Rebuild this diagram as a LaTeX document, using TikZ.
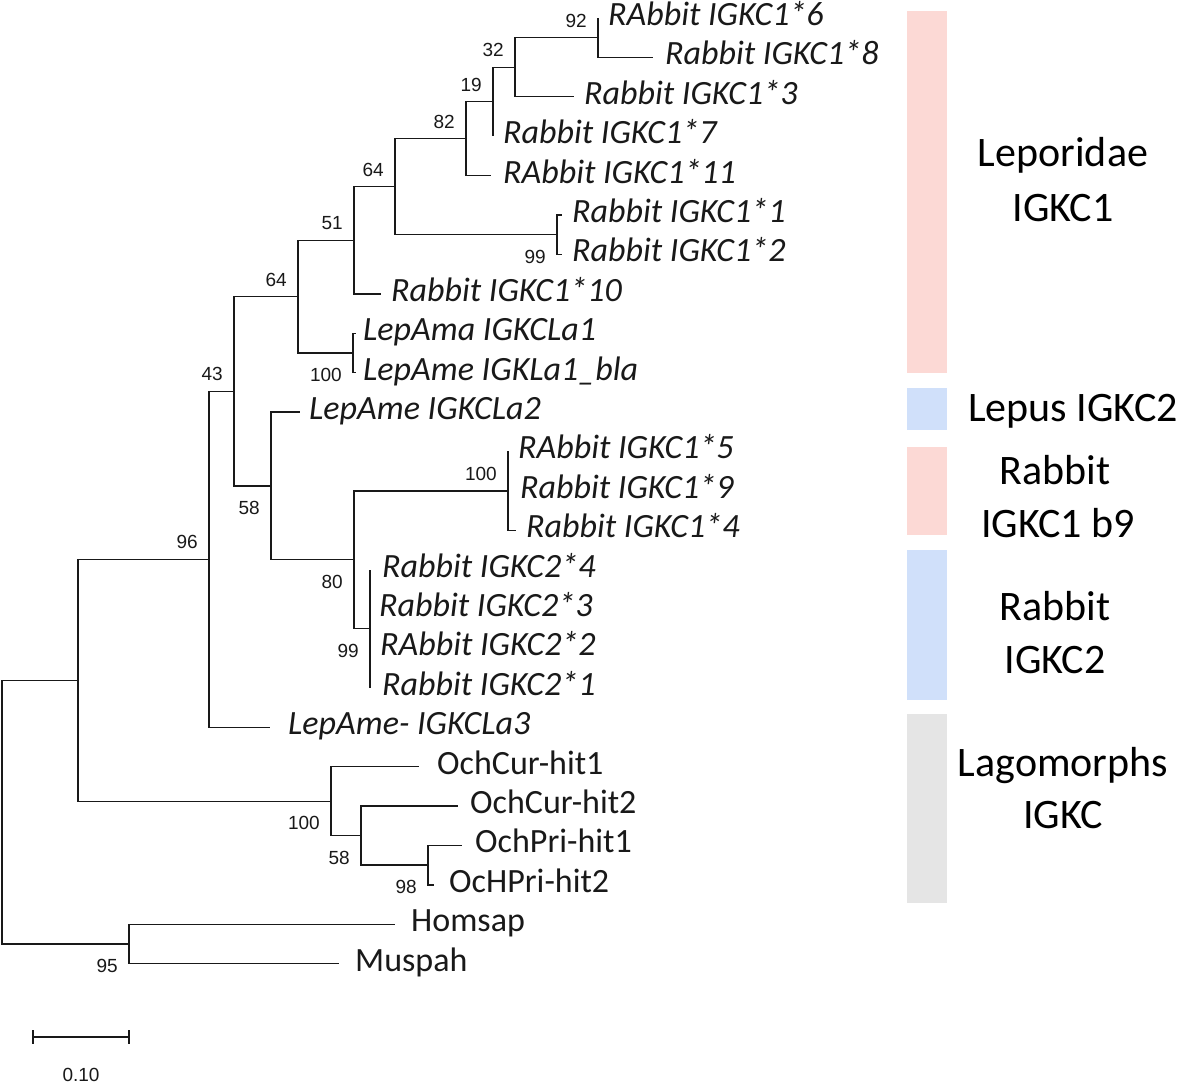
\documentclass[tikz,border=0pt]{standalone}
\usepackage{fontspec}
\setmainfont{Carlito}
\newfontfamily\arialfont{Liberation Sans}
\usetikzlibrary{calc}
\definecolor{barpink}{RGB}{252,217,213}
\definecolor{barblue}{RGB}{208,224,250}
\definecolor{bargray}{RGB}{229,229,229}
\definecolor{ink}{RGB}{25,25,25}
\begin{document}
\begin{tikzpicture}[x=1pt,y=-1pt,
  branch/.style={draw=ink,line width=1.4pt},
  leaflab/.style={anchor=base west,inner sep=0pt,font=\fontsize{34}{40}\selectfont\itshape,text=ink},
  plainlab/.style={anchor=base west,inner sep=0pt,font=\fontsize{34}{40}\selectfont,text=ink},
  bs/.style={anchor=east,inner sep=0pt,font=\arialfont\fontsize{19}{22}\selectfont,text=ink},
  grouplab/.style={anchor=base,inner sep=0pt,font=\fontsize{42}{50}\selectfont,text=black}
]
\useasboundingbox (0,0) rectangle (1181,1086);

% ---------- leaf tips ----------
\coordinate (l6)   at (598,18.0);
\coordinate (l8)   at (653,57.4);
\coordinate (l3)   at (574,96.8);
\coordinate (l7)   at (493,136.2);
\coordinate (l11)  at (491,175.6);
\coordinate (l1)   at (562,215.0);
\coordinate (l2)   at (562,254.4);
\coordinate (l10)  at (381,293.8);
\coordinate (la1)  at (356,333.2);
\coordinate (la1b) at (356,372.6);
\coordinate (la2)  at (300,412.0);
\coordinate (l5)   at (508,451.4);
\coordinate (l9)   at (508,490.8);
\coordinate (l4)   at (516,530.2);
\coordinate (c4)   at (370,569.6);
\coordinate (c3)   at (370,609.0);
\coordinate (c2)   at (370,648.4);
\coordinate (c1)   at (370,687.8);
\coordinate (la3)  at (270,727.2);
\coordinate (o1)   at (419,766.6);
\coordinate (o2)   at (458,806.0);
\coordinate (p1)   at (462,845.4);
\coordinate (p2)   at (434,884.8);
\coordinate (hs)   at (395,924.2);
\coordinate (mp)   at (339,963.6);

% ---------- internal nodes ----------
\coordinate (n92)   at (598,37.7);
\coordinate (n32)   at (515,67.25);
\coordinate (n19)   at (493,101.7);
\coordinate (n82)   at (466,138.7);
\coordinate (n99a)  at (557,234.7);
\coordinate (n64a)  at (395,186.7);
\coordinate (n51)   at (354,240.25);
\coordinate (n100a) at (353,352.9);
\coordinate (n64b)  at (298,296.6);
\coordinate (n100b) at (508,490.8);
\coordinate (n99b)  at (370,628.7);
\coordinate (n80)   at (354,559.75);
\coordinate (n58)   at (271,485.9);
\coordinate (n43)   at (234,391.25);
\coordinate (n96)   at (209,559.2);
\coordinate (n98)   at (428,865.1);
\coordinate (n58b)  at (361,835.5);
\coordinate (n100c) at (331,801.3);
\coordinate (n78)   at (78,680.2);
\coordinate (n95)   at (129,943.9);
\coordinate (root)  at (2,812.0);

% ---------- branches ----------
\draw[branch] (n92) |- (l6);   \draw[branch] (n92) |- (l8);
\draw[branch] (n32) |- (n92);  \draw[branch] (n32) |- (l3);
\draw[branch] (n19) |- (n32);  \draw[branch] (n19) |- (l7);
\draw[branch] (n82) |- (n19);  \draw[branch] (n82) |- (l11);
\draw[branch] (n99a) |- (l1);  \draw[branch] (n99a) |- (l2);
\draw[branch] (n64a) |- (n82); \draw[branch] (n64a) |- (n99a);
\draw[branch] (n51) |- (n64a); \draw[branch] (n51) |- (l10);
\draw[branch] (n100a) |- (la1); \draw[branch] (n100a) |- (la1b);
\draw[branch] (n64b) |- (n51); \draw[branch] (n64b) |- (n100a);
\draw[branch] (n100b) |- (l5); \draw[branch] (n100b) |- (l9); \draw[branch] (n100b) |- (l4);
\draw[branch] (n99b) |- (c4);  \draw[branch] (n99b) |- (c3);
\draw[branch] (n99b) |- (c2);  \draw[branch] (n99b) |- (c1);
\draw[branch] (n80) |- (n100b); \draw[branch] (n80) |- (n99b);
\draw[branch] (n58) |- (la2);  \draw[branch] (n58) |- (n80);
\draw[branch] (n43) |- (n64b); \draw[branch] (n43) |- (n58);
\draw[branch] (n96) |- (n43);  \draw[branch] (n96) |- (la3);
\draw[branch] (n98) |- (p1);   \draw[branch] (n98) |- (p2);
\draw[branch] (n58b) |- (o2);  \draw[branch] (n58b) |- (n98);
\draw[branch] (n100c) |- (o1); \draw[branch] (n100c) |- (n58b);
\draw[branch] (n78) |- (n96);  \draw[branch] (n78) |- (n100c);
\draw[branch] (n95) |- (hs);   \draw[branch] (n95) |- (mp);
\draw[branch] (root) |- (n78); \draw[branch] (root) |- (n95);

% ---------- leaf labels ----------
\node[leaflab] (t6)   at (608,25.5)  {RAbbit IGKC1*6};
\node[leaflab] (t8)   at (665,64.9)  {Rabbit IGKC1*8};
\node[leaflab] (t3)   at (584,104.3) {Rabbit IGKC1*3};
\node[leaflab] (t7)   at (503,143.7) {Rabbit IGKC1*7};
\node[leaflab] (t11)  at (503,183.1) {RAbbit IGKC1*11};
\node[leaflab] (t1)   at (572,222.5) {Rabbit IGKC1*1};
\node[leaflab] (t2)   at (572,261.9) {Rabbit IGKC1*2};
\node[leaflab] (t10)  at (391,301.3) {Rabbit IGKC1*10};
\node[leaflab] (tla1) at (363,340.7) {LepAma IGKCLa1};
\node[leaflab] (tla1b) at (363,380.1) {LepAme IGKLa1\_bla};
\node[leaflab] (tla2) at (309,419.5) {LepAme IGKCLa2};
\node[leaflab] (t5)   at (518,458.9) {RAbbit IGKC1*5};
\node[leaflab] (t9)   at (520,498.3) {Rabbit IGKC1*9};
\node[leaflab] (t4)   at (526,537.7) {Rabbit IGKC1*4};
\node[leaflab] (tc4)  at (382,577.1) {Rabbit IGKC2*4};
\node[leaflab] (tc3)  at (379,616.5) {Rabbit IGKC2*3};
\node[leaflab] (tc2)  at (380,655.9) {RAbbit IGKC2*2};
\node[leaflab] (tc1)  at (382,695.3) {Rabbit IGKC2*1};
\node[leaflab] (tla3) at (288,734.7) {LepAme- IGKCLa3};
\node[plainlab] (to1) at (437,774.1) {OchCur-hit1};
\node[plainlab] (to2) at (470,813.5) {OchCur-hit2};
\node[plainlab] (tp1) at (475,852.9) {OchPri-hit1};
\node[plainlab] (tp2) at (449,892.3) {OcHPri-hit2};
\node[plainlab] (ths) at (411,931.7) {Homsap};
\node[plainlab] (tmp) at (355,971.1) {Muspah};

% ---------- bootstrap values ----------
\node[bs] (b92)   at (587,20.7)   {92};
\node[bs] (b32)   at (504,50.25)  {32};
\node[bs] (b19)   at (482,84.7)   {19};
\node[bs] (b82)   at (455,121.7)  {82};
\node[bs] (b64a)  at (384,169.7)  {64};
\node[bs] (b99a)  at (546,256.7)  {99};
\node[bs] (b51)   at (343,223.25) {51};
\node[bs] (b100a) at (342,374.9)  {100};
\node[bs] (b64b)  at (287,279.6)  {64};
\node[bs] (b100b) at (497,473.8)  {100};
\node[bs] (b99b)  at (359,650.7)  {99};
\node[bs] (b80)   at (343,581.75) {80};
\node[bs] (b58)   at (260,507.9)  {58};
\node[bs] (b43)   at (223,374.25) {43};
\node[bs] (b96)   at (198,542.2)  {96};
\node[bs] (b98)   at (417,887.1)  {98};
\node[bs] (b58b)  at (350,857.5)  {58};
\node[bs] (b100c) at (320,823.3)  {100};
\node[bs] (b95)   at (118,965.9)  {95};

% ---------- scale bar ----------
\coordinate (s0) at (33,1037);
\coordinate (s1) at (129,1037);
\draw[branch] (s0) -- (s1);
\draw[branch] ($(s0)+(0,-7)$) -- ($(s0)+(0,7)$);
\draw[branch] ($(s1)+(0,-7)$) -- ($(s1)+(0,7)$);
\node[bs,anchor=center] (sl) at (81,1075) {0.10};

% ---------- group bars ----------
\fill[barpink] (907,11) rectangle (947,373);
\fill[barblue] (907,388) rectangle (947,430);
\fill[barpink] (907,447) rectangle (947,535);
\fill[barblue] (907,550) rectangle (947,700);
\fill[bargray] (907,714) rectangle (947,903);

% ---------- group labels ----------
\node[grouplab] (g1a) at (1063,167) {Leporidae};
\node[grouplab] (g1b) at (1063,222) {IGKC1};
\node[grouplab] (g2)  at (1073,421) {Lepus IGKC2};
\node[grouplab] (g3a) at (1055,484) {Rabbit};
\node[grouplab] (g3b) at (1058,537) {IGKC1 b9};
\node[grouplab] (g4a) at (1055,620) {Rabbit};
\node[grouplab] (g4b) at (1055,673) {IGKC2};
\node[grouplab] (g5a) at (1063,776) {Lagomorphs};
\node[grouplab] (g5b) at (1063,828) {IGKC};
\end{tikzpicture}
\end{document}
